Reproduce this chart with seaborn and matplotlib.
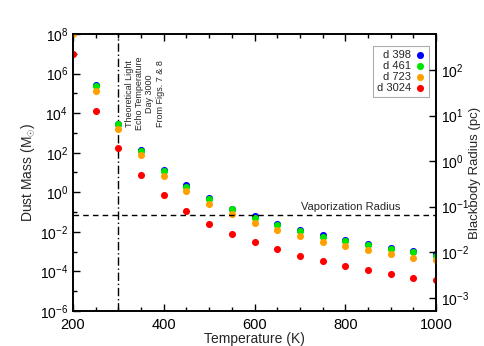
import numpy as np
import pandas as pd
import matplotlib
matplotlib.use("Agg")
import matplotlib.pyplot as plt
import matplotlib.ticker as mticker
import seaborn as sns

sns.set_style("ticks")
plt.rcParams['font.family'] = ['Liberation Sans', 'DejaVu Sans']
plt.rcParams['mathtext.fontset'] = 'custom'
plt.rcParams['mathtext.rm'] = 'Liberation Sans'
plt.rcParams['mathtext.it'] = 'Liberation Sans:italic'
plt.rcParams['axes.unicode_minus'] = False

# data (dust mass, solar masses)
temps = [200, 250, 300, 350, 400, 450, 500, 550, 600, 650, 700, 750, 800, 850, 900, 950, 1000]
d398 = [2.5e8, 2.6e5, 2.95e3, 145, 13.5, 2.3, 0.54, 0.15, 0.065, 0.025, 0.0123,
        6.8e-3, 4.0e-3, 2.4e-3, 1.55e-3, 1.05e-3, 7.4e-4]
d461 = [2.2e8, 2.3e5, 2.75e3, 123, 11.7, 1.95, 0.47, 0.14, 0.052, 0.021, 0.0105,
        5.8e-3, 3.4e-3, 2.05e-3, 1.3e-3, 9.3e-4, 6.3e-4]
d723 = [1.0e8, 1.3e5, 1.6e3, 74, 6.9, 1.1, 0.26, 0.078, 0.028, 0.0126, 6.0e-3,
        3.2e-3, 1.9e-3, 1.15e-3, 7.4e-4, 5.0e-4, 3.7e-4]
d3024 = [9.3e6, 1.3e4, 170, 7.2, 0.71, 0.11, 0.025, 7.6e-3, 2.9e-3, 1.4e-3, 5.9e-4,
         3.2e-4, 1.9e-4, 1.2e-4, 7.2e-5, 4.9e-5, 3.6e-5]
labels = ['d 398', 'd 461', 'd 723', 'd 3024']
colors = ['#0000ff', '#00e600', '#ffa000', '#ff0000']

vap_radius = 0.067      # pc, on the right axis
light_echo_T = 300      # K

df = pd.DataFrame({
    'T': temps * 4,
    'mass': d398 + d461 + d723 + d3024,
    'epoch': np.repeat(labels, len(temps)),
})

fig, ax = plt.subplots(figsize=(4.85, 3.46), dpi=100)
fig.subplots_adjust(left=0.1505, right=0.899, top=0.9017, bottom=0.1012)

for lab, col in zip(labels, colors):
    sns.scatterplot(data=df[df['epoch'] == lab], x='T', y='mass', color=col,
                    s=26, linewidth=0, label=lab, ax=ax, zorder=3)

ax.set_yscale('log')
ax.set_xlim(200, 1000)
ax.set_ylim(1e-6, 1e8)
ax.set_yticks([10.0**k for k in range(-6, 9, 2)])
ax.set_yticks([10.0**k for k in range(-5, 8, 2)], minor=True)
ax.yaxis.set_major_formatter(mticker.LogFormatterMathtext())
ax.yaxis.set_minor_formatter(mticker.NullFormatter())
ax.xaxis.set_major_locator(mticker.MultipleLocator(200))
ax.xaxis.set_minor_locator(mticker.MultipleLocator(50))
ax.tick_params(which='both', direction='in', top=True, right=False, width=1, colors='black')
ax.tick_params(which='major', length=5, labelsize=10.5)
ax.tick_params(which='minor', length=3)
ax.tick_params(axis='x', pad=5)
ax.tick_params(axis='y', labelsize=10)
for sp in ax.spines.values():
    sp.set_linewidth(1.2)
    sp.set_color('black')

ax.set_xlabel('Temperature (K)', fontsize=10, labelpad=0)
ax.set_ylabel(r'Dust Mass (M$_{\odot}$)', fontsize=10, labelpad=2)

# theoretical light echo temperature
ax.axvline(light_echo_T, color='black', linestyle=(0, (6, 2, 1, 2)), linewidth=1)
ax.text(358, 1e5, 'Theoretical Light\nEcho Temperature\nDay 3000\nFrom Figs. 7 & 8',
        rotation=90, ha='center', va='center', multialignment='center', fontsize=6.5)

leg = ax.legend(loc='upper right', bbox_to_anchor=(0.981, 0.957), borderaxespad=0,
                markerfirst=False, fontsize=8, frameon=True, fancybox=False,
                handletextpad=0.3, labelspacing=0.1, borderpad=0.35,
                handlelength=1.0, markerscale=1.0)
leg.get_frame().set_edgecolor('#999999')
leg.get_frame().set_linewidth(0.8)

# blackbody radius axis
ax2 = ax.twinx()
ax2.set_yscale('log')
ax2.set_ylim(10**-3.29, 10**2.79)
ax2.set_yticks([10.0**k for k in range(-3, 3)])
ax2.yaxis.set_major_formatter(mticker.LogFormatterMathtext())
ax2.yaxis.set_minor_locator(mticker.NullLocator())
ax2.tick_params(direction='in', length=5, width=1, labelsize=10, colors='black')
ax2.set_ylabel('Blackbody Radius (pc)', fontsize=9.5, labelpad=0)
for sp in ax2.spines.values():
    sp.set_linewidth(1.2)
    sp.set_color('black')

ax2.axhline(vap_radius, color='black', linestyle=(0, (4, 3)), linewidth=1)
ax2.text(812, vap_radius * 1.12, 'Vaporization Radius', ha='center', va='bottom', fontsize=8)

fig.savefig('out.png', dpi=100)
